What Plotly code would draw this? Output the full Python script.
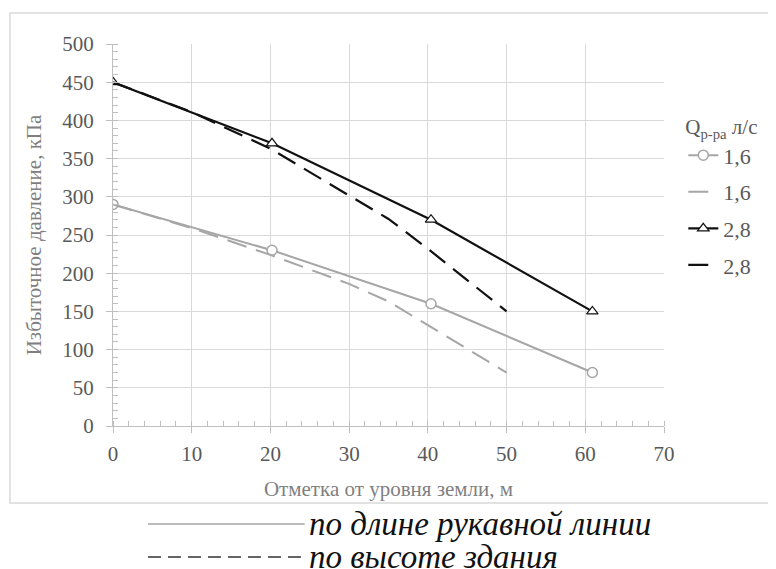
import plotly.graph_objects as go

# Data
x_length = [0, 20.2, 40.4, 60.9]
p_length_16 = [290, 230, 160, 70]
p_length_28 = [450, 370, 270, 150]
x_height = [0, 10, 20, 30, 35, 40, 50]
p_height_16 = [290, 259, 224, 186, 163, 132, 70]
p_height_28 = [450, 411, 363, 301, 271, 232, 150]
legend_names = ["1,6", "1,6", "2,8", "2,8"]

GRAY = "#a6a6a6"
BLACK = "#111111"
SERIF = "Liberation Serif"

fig = go.Figure()
fig.add_trace(go.Scatter(x=x_length, y=p_length_16, name=legend_names[0], mode="lines+markers",
                         legendgroup="a",
                         line=dict(color=GRAY, width=2),
                         marker=dict(symbol="circle", size=10, color="white", line=dict(color=GRAY, width=1.5))))
fig.add_trace(go.Scatter(x=x_height, y=p_height_16, name=legend_names[1], mode="lines",
                         legendgroup="b",
                         line=dict(color=GRAY, width=2, dash="20px,10px")))
fig.add_trace(go.Scatter(x=x_length, y=p_length_28, name=legend_names[2], mode="lines+markers",
                         legendgroup="c",
                         line=dict(color=BLACK, width=2.2),
                         marker=dict(symbol="triangle-up", size=10, color="white", line=dict(color=BLACK, width=1.2))))
fig.add_trace(go.Scatter(x=x_height, y=p_height_28, name=legend_names[3], mode="lines",
                         legendgroup="d",
                         line=dict(color=BLACK, width=2.2, dash="20px,10px")))

axis_common = dict(
    showline=True, linecolor="#bfbfbf", linewidth=1,
    gridcolor="#d9d9d9", gridwidth=1,
    ticks="outside", ticklen=6, tickcolor="#bfbfbf",
    tickfont=dict(family=SERIF, size=21, color="#595959"),
    zeroline=False,
)

fig.update_xaxes(range=[0, 70], dtick=10, **axis_common, ticklabelstandoff=3,
                 minor=dict(ticks="inside", dtick=2, ticklen=5, tickcolor="#bfbfbf", showgrid=False),
                 title=dict(text="Отметка от уровня земли, м", font=dict(family=SERIF, size=21, color="#7f7f7f"),
                            standoff=16))
fig.update_yaxes(range=[0, 500], dtick=50, **axis_common, ticklabelstandoff=8,
                 minor=dict(ticks="inside", dtick=10, ticklen=5, tickcolor="#bfbfbf", showgrid=False),
                 title=dict(text="Избыточное давление, кПа", font=dict(family=SERIF, size=21, color="#7f7f7f"),
                            standoff=14))

# chart border and bottom legend keys
fig.add_shape(type="rect", xref="paper", yref="paper", x0=-0.187, x1=1.198, y0=-0.2016, y1=1.081,
              line=dict(color="#d9d9d9", width=1.5), fillcolor="rgba(0,0,0,0)", layer="below")
fig.add_shape(type="line", xref="paper", yref="paper", x0=0.0635, x1=0.348, y0=-0.2565, y1=-0.2565,
              line=dict(color=GRAY, width=1.5))
fig.add_shape(type="line", xref="paper", yref="paper", x0=0.0635, x1=0.348, y0=-0.343, y1=-0.343,
              line=dict(color="#333333", width=1.5, dash="13px,7px"))
fig.add_annotation(xref="paper", yref="paper", x=0.352, y=-0.2565, xanchor="left", yanchor="middle",
                   text="<i>по длине рукавной линии</i>", showarrow=False,
                   font=dict(family=SERIF, size=33, color="#111111"))
fig.add_annotation(xref="paper", yref="paper", x=0.352, y=-0.343, xanchor="left", yanchor="middle",
                   text="<i>по высоте здания</i>", showarrow=False,
                   font=dict(family=SERIF, size=33, color="#111111"))

fig.update_layout(
    width=776, height=569,
    margin=dict(l=105, r=120, t=36, b=151),
    paper_bgcolor="white", plot_bgcolor="white",
    font=dict(family=SERIF),
    legend=dict(x=1.035, y=0.835, xanchor="left", yanchor="top",
                title=dict(text="Q<sub>р-ра</sub> л/с", font=dict(family=SERIF, size=21, color="#595959")),
                font=dict(family=SERIF, size=22, color="#595959"),
                bgcolor="rgba(0,0,0,0)", itemwidth=30, tracegroupgap=5),
    showlegend=True,
)

fig.write_html("out.html")
